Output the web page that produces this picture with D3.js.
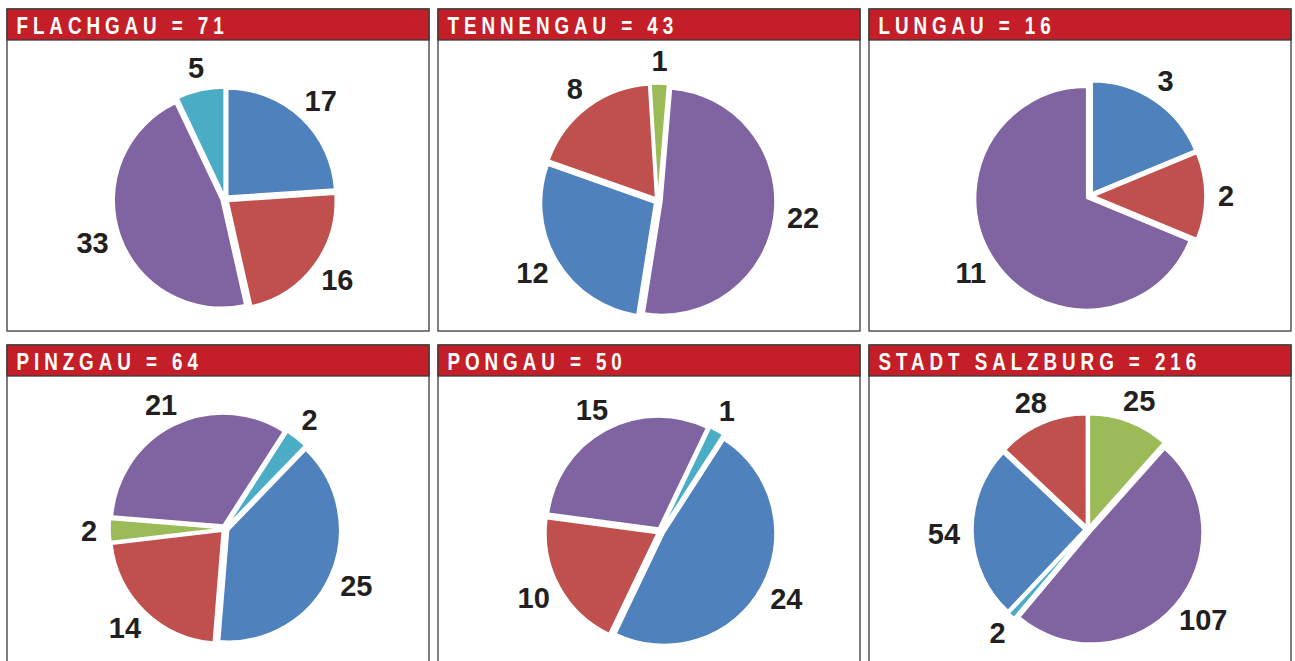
<!DOCTYPE html>
<html>
<head>
<meta charset="utf-8">
<script src="https://cdn.jsdelivr.net/npm/d3@7"></script>
<style>
  html, body { margin: 0; padding: 0; background: #ffffff; }
  svg { display: block; }
</style>
</head>
<body>
<svg id="chart" width="1295" height="661"></svg>
<script>
// ---- data ----
const regions = ["FLACHGAU", "TENNENGAU", "LUNGAU", "PINZGAU", "PONGAU", "STADT SALZBURG"];
const totals = [71, 43, 16, 64, 50, 216];
const seriesKeys = ["blue", "red", "green", "purple", "cyan"];
const blueValues   = [17, 12, 3, 25, 24, 54];
const redValues    = [16, 8, 2, 14, 10, 28];
const greenValues  = [0, 1, 0, 2, 0, 25];
const purpleValues = [33, 22, 11, 21, 15, 107];
const cyanValues   = [5, 0, 0, 2, 1, 2];

// ---- styles / layout ----
const colors = {blue: "#4F81BD", red: "#C0504D", green: "#9BBB59", purple: "#8064A2", cyan: "#4BACC6"};
const seriesValues = {blue: blueValues, red: redValues, green: greenValues, purple: purpleValues, cyan: cyanValues};
const colX = [7, 438, 869];
const rowY = [9, 345];
const panelW = 422, panelH = 322, headerH = 31;
// per panel: pie center offset within panel, radius, first-slice angle (deg)
const layout = [
  {dx: 218, dy: 190, r: 107, start: 0},
  {dx: 220, dy: 192, r: 113, start: 189},
  {dx: 221, dy: 187, r: 111, start: 0},
  {dx: 218, dy: 183.5, r: 111, start: 44},
  {dx: 222.5, dy: 186.5, r: 111, start: 32.8},
  {dx: 219, dy: 184.5, r: 111, start: 223.3}
];
const explode = 4;
const labelFont = 29;

const svg = d3.select("#chart");

regions.forEach((name, i) => {
  const x0 = colX[i % 3], y0 = rowY[Math.floor(i / 3)];
  const L = layout[i];
  const g = svg.append("g").attr("transform", `translate(${x0},${y0})`);

  // body box
  g.append("rect").attr("x", 0).attr("y", 0).attr("width", panelW).attr("height", panelH)
    .attr("fill", "#fff").attr("stroke", "#3a3a3a").attr("stroke-width", 1.3);
  // header
  g.append("rect").attr("x", 0).attr("y", 0).attr("width", panelW).attr("height", headerH)
    .attr("fill", "#C41F28").attr("stroke", "#3a3a3a").attr("stroke-width", 1.3);
  g.append("text")
    .attr("transform", `translate(9.5,25) scale(0.82,1)`)
    .attr("font-family", "'Liberation Sans', Arial, sans-serif")
    .attr("font-weight", "bold").attr("font-size", 23)
    .attr("letter-spacing", 6)
    .attr("fill", "#fff")
    .text(`${name} = ${totals[i]}`);

  // pie
  const data = seriesKeys.map(k => ({key: k, value: seriesValues[k][i]}));
  const a0 = L.start * Math.PI / 180;
  const pie = d3.pie().sort(null).value(d => d.value).startAngle(a0).endAngle(a0 + 2 * Math.PI);
  const arcs = pie(data).filter(d => d.data.value > 0);
  const arc = d3.arc().innerRadius(0).outerRadius(L.r);
  const pg = g.append("g").attr("transform", `translate(${L.dx},${L.dy})`);

  pg.selectAll("path").data(arcs).join("path")
    .attr("d", arc)
    .attr("transform", d => {
      const m = (d.startAngle + d.endAngle) / 2;
      return `translate(${explode * Math.sin(m)},${-explode * Math.cos(m)})`;
    })
    .attr("fill", d => colors[d.data.key])
    .attr("stroke", "#fff").attr("stroke-width", 1.5).attr("stroke-linejoin", "miter");

  const capH = labelFont * 0.716;
  pg.selectAll("text.lbl").data(arcs).join("text")
    .attr("class", "lbl")
    .attr("font-family", "'Liberation Sans', Arial, sans-serif")
    .attr("font-weight", "bold").attr("font-size", labelFont)
    .attr("fill", "#231F20")
    .attr("text-anchor", "middle")
    .text(d => d.data.value)
    .each(function(d) {
      const w = this.getComputedTextLength();
      const m = (d.startAngle + d.endAngle) / 2;
      const sx = Math.sin(m), sy = -Math.cos(m);
      const R = L.r + 17;
      const cx = R * sx + sx * w / 2;
      const cy = R * sy + sy * capH / 2;
      d3.select(this).attr("x", cx).attr("y", cy + capH / 2);
    });
});
</script>
</body>
</html>
